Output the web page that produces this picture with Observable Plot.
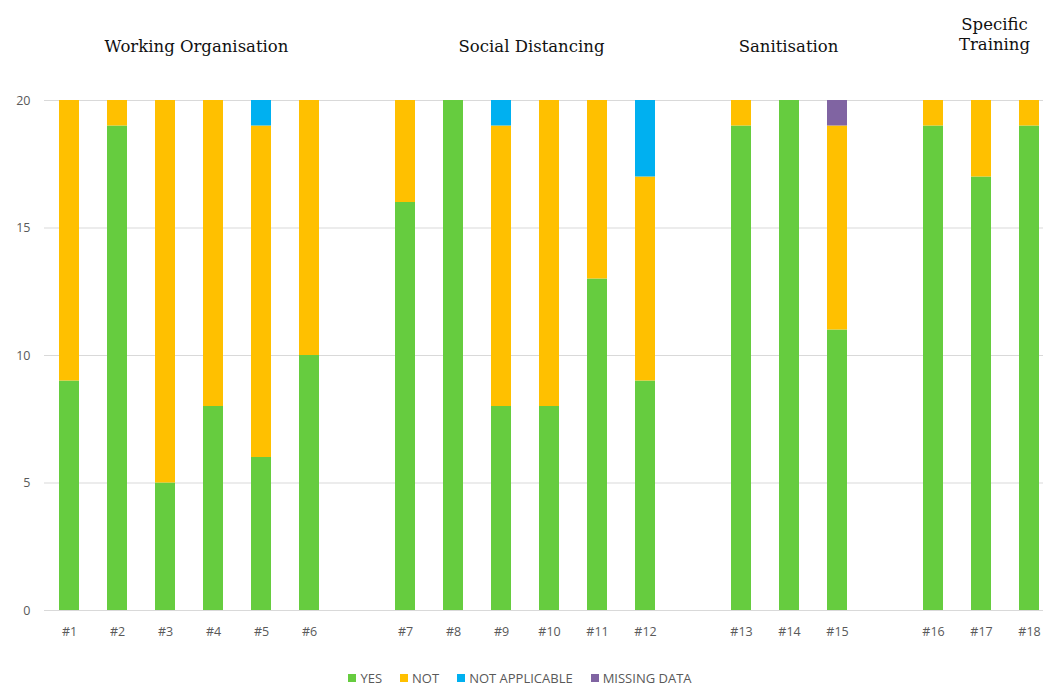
<!DOCTYPE html>
<html>
<head>
<meta charset="utf-8">
<script src="https://cdn.jsdelivr.net/npm/d3@7"></script>
<script src="https://cdn.jsdelivr.net/npm/@observablehq/plot@0.6"></script>
<style>
  html, body { margin: 0; padding: 0; background: #fff; }
  #chart { position: relative; width: 1043px; height: 686px; overflow: hidden; }
  #legend { position: absolute; left: 0; top: 669px; width: 1040px; display: flex; justify-content: center; gap: 18px;
            font-family: "Open Sans", "Liberation Sans", sans-serif; font-size: 13px; color: #595959; }
  #legend span.item { display: inline-flex; align-items: center; }
  #legend span.sw { width: 8px; height: 8px; display: inline-block; margin-right: 4px; }
</style>
</head>
<body>
<div id="chart"></div>
<script>
// Data
const items = ["#1","#2","#3","#4","#5","#6","#7","#8","#9","#10","#11","#12","#13","#14","#15","#16","#17","#18"];
const groups = ["Working Organisation","Working Organisation","Working Organisation","Working Organisation","Working Organisation","Working Organisation",
  "Social Distancing","Social Distancing","Social Distancing","Social Distancing","Social Distancing","Social Distancing",
  "Sanitisation","Sanitisation","Sanitisation",
  "Specific Training","Specific Training","Specific Training"];
const yes         = [9, 19, 5, 8, 6, 10, 16, 20, 8, 8, 13, 9, 19, 20, 11, 19, 17, 19];
const not         = [11, 1, 15, 12, 13, 10, 4, 0, 11, 12, 7, 8, 1, 0, 8, 1, 3, 1];
const notApplic   = [0, 0, 0, 0, 1, 0, 0, 0, 1, 0, 0, 3, 0, 0, 0, 0, 0, 0];
const missingData = [0, 0, 0, 0, 0, 0, 0, 0, 0, 0, 0, 0, 0, 0, 1, 0, 0, 0];
const seriesNames = ["YES", "NOT", "NOT APPLICABLE", "MISSING DATA"];
const seriesColors = ["#66CC3F", "#FFC000", "#00B0F0", "#8064A2"];
const yTicks = [0, 5, 10, 15, 20];
const groupTitles = ["Working Organisation", "Social Distancing", "Sanitisation", "Specific\nTraining"];
const groupAnchors = ["#3", "#9", "#14", "#17"];

// x domain with empty slots between groups
const domain = [];
items.forEach((it, i) => {
  if (i > 0 && groups[i] !== groups[i - 1]) domain.push("gap" + i);
  domain.push(it);
});

const seriesValues = [yes, not, notApplic, missingData];
const rows = [];
items.forEach((it, i) => {
  seriesNames.forEach((s, j) => {
    rows.push({item: it, series: s, value: seriesValues[j][i]});
  });
});

const titleOffsets = [31, 30, -1, 13];
const titleMarks = groupTitles.map((t, k) => Plot.text([t], {
  x: () => groupAnchors[k], y: () => 20,
  text: d => d,
  dx: titleOffsets[k],
  dy: t.includes("\n") ? -67 : -55,
  lineHeight: 1.2,
  fontFamily: "'DejaVu Serif', 'Liberation Serif', serif",
  fontSize: 16.5,
  fill: "#111",
  textAnchor: "middle"
}));

const plot = Plot.plot({
  width: 1043,
  height: 655,
  marginTop: 100,
  marginBottom: 45,
  marginLeft: 44,
  marginRight: 0,
  style: {fontFamily: "'Open Sans', 'Liberation Sans', sans-serif", fontSize: "12.5px", color: "#595959", background: "#fff"},
  x: {domain, range: [58, 1040], paddingInner: 0.58, paddingOuter: 0, label: null, tickSize: 0, tickPadding: 17,
      tickFormat: d => String(d).startsWith("gap") ? "" : d},
  y: {domain: [0, 20], ticks: yTicks, label: null, tickSize: 0, tickPadding: 14},
  color: {domain: seriesNames, range: seriesColors},
  marks: [
    Plot.gridY(yTicks, {stroke: "#d9d9d9", strokeOpacity: 1}),
    Plot.barY(rows, {x: "item", y: "value", fill: "series", order: seriesNames}),
    ...titleMarks
  ]
});
document.getElementById("chart").appendChild(plot);

const legend = document.createElement("div");
legend.id = "legend";
seriesNames.forEach((s, j) => {
  const it = document.createElement("span");
  it.className = "item";
  const sw = document.createElement("span");
  sw.className = "sw";
  sw.style.background = seriesColors[j];
  it.appendChild(sw);
  it.appendChild(document.createTextNode(s));
  legend.appendChild(it);
});
document.getElementById("chart").appendChild(legend);
</script>
</body>
</html>
